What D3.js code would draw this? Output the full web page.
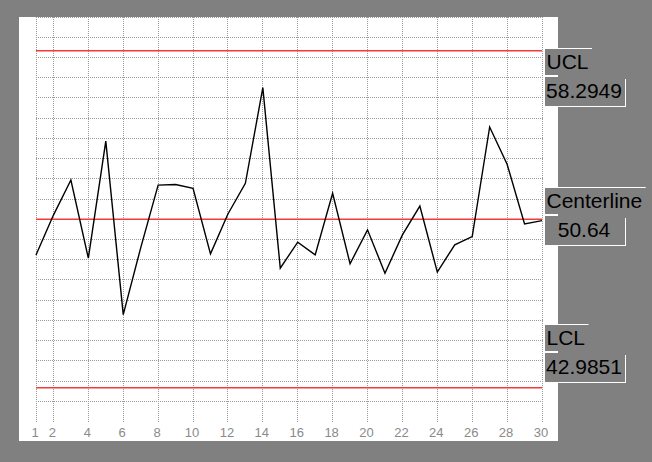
<!DOCTYPE html>
<html>
<head>
<meta charset="utf-8">
<script src="https://cdn.jsdelivr.net/npm/d3@7"></script>
<style>
	body { margin: 0; background: #808080; }
	text { font-family: "Liberation Sans", Arial, sans-serif; }
</style>
</head>
<body>
<div id="chart"></div>
<script>

		//sample numbers and measured values
		var samples = [1, 2, 3, 4, 5, 6, 7, 8, 9, 10, 11, 12, 13, 14, 15,
					   16, 17, 18, 19, 20, 21, 22, 23, 24, 25, 26, 27, 28, 29, 30];
		var values = [49.02, 50.83, 52.42, 48.87, 54.19, 46.31, 49.34, 52.19, 52.22, 52.04,
					  49.07, 50.88, 52.27, 56.62, 48.42, 49.60, 49.02, 51.82, 48.62, 50.16,
					  48.19, 49.93, 51.24, 48.24, 49.48, 49.85, 54.83, 53.14, 50.43, 50.58];

		//control limits
		var limitNames = ['UCL', 'Centerline', 'LCL'];
		var limitValues = [58.2949, 50.64, 42.9851];

		//x tick labels
		var xTicks = [1, 2, 4, 6, 8, 10, 12, 14, 16, 18, 20, 22, 24, 26, 28, 30];

		//the size of the graph
		var width = 652,
			height = 462;

		var ucl = limitValues[0],
			cl = limitValues[1];
		var half = 1.2 * (ucl - cl);

		var x = d3.scaleLinear()
					.domain([samples[0], samples[samples.length - 1]])
					.range([36, 542]);

		var y = d3.scaleLinear()
					.domain([cl - half, cl + half])
					.range([421.5, 17]);

		var svg = d3.select('#chart')
			.append('svg')
			  .attr('width', width)
			  .attr('height', height);

		//background and white panel
		svg.append('rect')
			.attr('width', width)
			.attr('height', height)
			.style('fill', '#808080');

		svg.append('rect')
			.attr('x', 19)
			.attr('y', 17)
			.attr('width', 539)
			.attr('height', 424)
			.style('fill', '#ffffff');

		//dotted grid, 20 divisions over the y domain
		var gridY = d3.range(1, 21).map(function(i) {
			return y.domain()[0] + i * (y.domain()[1] - y.domain()[0]) / 20;
		});

		svg.selectAll('.grid-h')
			.data(gridY)
			.enter()
			.append('line')
			.attr('class', 'grid-h')
			.attr('x1', x.range()[0])
			.attr('x2', x.range()[1] + 1)
			.attr('y1', function(d) { return Math.floor(y(d)) + 0.5; })
			.attr('y2', function(d) { return Math.floor(y(d)) + 0.5; })
			.style('stroke', '#9a9a9a')
			.style('stroke-dasharray', '1,1');

		svg.selectAll('.grid-v')
			.data(xTicks)
			.enter()
			.append('line')
			.attr('class', 'grid-v')
			.attr('x1', function(d) { return Math.floor(x(d)) + 0.5; })
			.attr('x2', function(d) { return Math.floor(x(d)) + 0.5; })
			.attr('y1', 17)
			.attr('y2', 422)
			.style('stroke', '#9a9a9a')
			.style('stroke-dasharray', '1,1');

		//limit lines
		svg.selectAll('.limit-line')
			.data(limitValues)
			.enter()
			.append('line')
			.attr('class', 'limit-line')
			.attr('x1', x.range()[0])
			.attr('x2', x.range()[1])
			.attr('y1', function(d) { return y(d); })
			.attr('y2', function(d) { return y(d); })
			.style('stroke', '#f23a3a')
			.style('stroke-width', 1.5);

		//data line
		var line = d3.line()
					.x(function(d, i) { return x(samples[i]); })
					.y(function(d) { return y(d); });

		svg.append('path')
			.datum(values)
			.attr('d', line)
			.style('fill', 'none')
			.style('stroke', '#000000')
			.style('stroke-width', 1.4);

		//x tick labels
		svg.selectAll('.x-label')
			.data(xTicks)
			.enter()
			.append('text')
			.attr('class', 'x-label')
			.attr('x', function(d) { return x(d) - 1; })
			.attr('y', 437)
			.attr('text-anchor', 'middle')
			.style('font-size', '13px')
			.style('fill', '#8a8a8a')
			.text(function(d) { return d; });

		//limit labels on the right
		var labelOffset = [-3, -32, -64];

		limitNames.forEach(function(name, i) {
			var top = Math.round(y(limitValues[i])) + labelOffset[i];
			var g = svg.append('g').attr('class', 'limit-label');

			var box = g.append('rect')
						.attr('x', 545)
						.attr('y', top)
						.attr('height', 27)
						.style('fill', '#808080');

			var label = g.append('text')
						.attr('x', 546.5)
						.attr('y', top + 21)
						.style('font-size', '21px')
						.style('fill', '#000000')
						.text(name);

			var w = label.node().getComputedTextLength() + 5;
			box.attr('width', w);

			g.append('line')
				.attr('x1', 543)
				.attr('x2', 545 + w)
				.attr('y1', top + 0.5)
				.attr('y2', top + 0.5)
				.style('stroke', '#ffffff');

			g.append('rect')
				.attr('x', 545)
				.attr('y', top + 29)
				.attr('width', 80)
				.attr('height', 29)
				.style('fill', '#808080');

			g.append('text')
				.attr('x', 584)
				.attr('y', top + 50)
				.attr('text-anchor', 'middle')
				.style('font-size', '21px')
				.style('fill', '#000000')
				.text(String(limitValues[i]));

			g.append('line')
				.attr('x1', 625.5)
				.attr('x2', 625.5)
				.attr('y1', top + 31)
				.attr('y2', top + 58)
				.style('stroke', '#ffffff');

			g.append('line')
				.attr('x1', 543)
				.attr('x2', 626)
				.attr('y1', top + 58.5)
				.attr('y2', top + 58.5)
				.style('stroke', '#ffffff');
		});

</script>
</body>
</html>
